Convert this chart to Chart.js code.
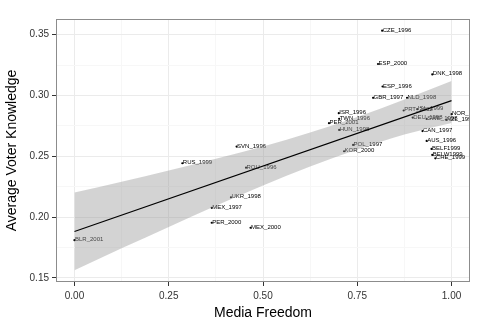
<!DOCTYPE html>
<html>
<head>
<meta charset="utf-8">
<script src="https://cdn.jsdelivr.net/npm/chart.js@4.4.0/dist/chart.umd.min.js"></script>
<style>
  html, body { margin: 0; padding: 0; background: #fff; }
</style>
</head>
<body>
<canvas id="knowledge" width="490" height="327"></canvas>
<script>
// country/election cases
const countries = [
    'CZE_1996', 'ESP_2000', 'DNK_1998', 'ESP_1996', 'GBR_1997', 'NLD_1998',
    'PRT_2002', 'ISL_1999', 'DEU_1998', 'SWE_1998', 'NOR_1997', 'NZL_1996',
    'ISR_1996', 'TWN_1996', 'PER_2001', 'HUN_1998', 'CAN_1997', 'POL_1997',
    'KOR_2000', 'AUS_1996', 'BELF1999', 'BELW1999', 'CHE_1999', 'SVN_1996',
    'RUS_1999', 'ROU_1996', 'UKR_1998', 'MEX_1997', 'PER_2000', 'MEX_2000',
    'BLR_2001'
];
const mediaFreedom = [
    0.816, 0.805, 0.949, 0.817, 0.792, 0.882,
    0.873, 0.909, 0.897, 0.934, 1.000, 0.986,
    0.701, 0.702, 0.675, 0.702, 0.923, 0.739,
    0.715, 0.934, 0.947, 0.949, 0.957, 0.430,
    0.286, 0.455, 0.415, 0.364, 0.364, 0.467,
    0.000
];
const voterKnowledge = [
    0.3533, 0.3259, 0.3173, 0.3074, 0.2981, 0.2981,
    0.2877, 0.2888, 0.2819, 0.2808, 0.2847, 0.2799,
    0.2855, 0.2808, 0.2773, 0.2717, 0.2708, 0.2594,
    0.2542, 0.2627, 0.2561, 0.2512, 0.2484, 0.2580,
    0.2443, 0.2407, 0.2163, 0.2077, 0.1954, 0.1913,
    0.1811
];

// linear fit and its 95% band
const fitX = [0, 1];
const fitY = [0.1883, 0.2958];
const bandX = [0, 0.125, 0.25, 0.375, 0.5, 0.625, 0.75, 0.875, 1];
const bandUpper = [0.2202, 0.2292, 0.2384, 0.2480, 0.2581, 0.2695, 0.2824, 0.2968, 0.3120];
const bandLower = [0.1564, 0.1744, 0.1920, 0.2094, 0.2261, 0.2417, 0.2556, 0.2680, 0.2775];

// axis ticks (major labelled, minor only as grid)
const xMajor = [0, 0.25, 0.5, 0.75, 1];
const xMinor = [0.125, 0.375, 0.625, 0.875];
const yMajor = [0.15, 0.2, 0.25, 0.3, 0.35];
const yMinor = [0.175, 0.225, 0.275, 0.325];

const FONT = '"Liberation Sans", Arial, Helvetica, sans-serif';

const toXY = (xs, ys) => xs.map((v, i) => ({x: v, y: ys[i]}));

function gridFor(major) {
    return {
        color: ctx => major.includes(ctx.tick.value) ? '#ebebeb' : '#f7f7f7',
        lineWidth: 1,
        tickColor: ctx => major.includes(ctx.tick.value) ? '#333333' : 'rgba(0,0,0,0)',
        tickLength: 4,
        drawTicks: true
    };
}

function setTicks(major, minor) {
    return scale => {
        scale.ticks = major.concat(minor).sort((a, b) => a - b).map(v => ({value: v}));
    };
}

// text labels next to each point, clipped to the panel
const pointLabels = {
    id: 'pointLabels',
    beforeDatasetsDraw(chart) {
        const {ctx, chartArea, scales: {x, y}} = chart;
        ctx.save();
        ctx.beginPath();
        ctx.rect(chartArea.left, chartArea.top, chartArea.right - chartArea.left, chartArea.bottom - chartArea.top);
        ctx.clip();
        ctx.font = '6px ' + FONT;
        ctx.fillStyle = '#000';
        ctx.textAlign = 'left';
        ctx.textBaseline = 'alphabetic';
        countries.forEach((name, i) => {
            ctx.fillText(name, x.getPixelForValue(mediaFreedom[i]) + 0.5, y.getPixelForValue(voterKnowledge[i]) + 1);
        });
        ctx.restore();
    }
};

// grey frame round the panel
const panelBorder = {
    id: 'panelBorder',
    afterDraw(chart) {
        const {ctx, chartArea} = chart;
        ctx.save();
        ctx.strokeStyle = '#8c8c8c';
        ctx.lineWidth = 1;
        ctx.strokeRect(chartArea.left + 0.5, chartArea.top + 0.5,
            chartArea.right - chartArea.left - 1, chartArea.bottom - chartArea.top - 1);
        ctx.restore();
    }
};

const dataKnowledge = {
    datasets: [
        {
            label: 'fit',
            data: toXY(fitX, fitY),
            showLine: true,
            borderColor: '#000',
            borderWidth: 1.1,
            pointRadius: 0
        },
        {
            label: 'upper',
            data: toXY(bandX, bandUpper),
            showLine: true,
            borderWidth: 0,
            borderColor: 'rgba(0,0,0,0)',
            pointRadius: 0,
            cubicInterpolationMode: 'monotone',
            fill: false
        },
        {
            label: 'lower',
            data: toXY(bandX, bandLower),
            showLine: true,
            borderWidth: 0,
            borderColor: 'rgba(0,0,0,0)',
            backgroundColor: 'rgba(150,150,150,0.42)',
            pointRadius: 0,
            cubicInterpolationMode: 'monotone',
            fill: '-1'
        },
        {
            label: 'cases',
            data: toXY(mediaFreedom, voterKnowledge),
            backgroundColor: '#000',
            borderWidth: 0,
            pointRadius: 1.1
        }
    ]
};

const configKnowledge = {
    type: 'scatter',
    data: dataKnowledge,
    plugins: [pointLabels, panelBorder],
    options: {
        responsive: false,
        animation: false,
        devicePixelRatio: 1,
        layout: {
            padding: {top: 19, right: 20, bottom: 0, left: 0}
        },
        plugins: {
            legend: {display: false},
            tooltip: {enabled: false}
        },
        scales: {
            x: {
                type: 'linear',
                min: -0.049,
                max: 1.049,
                afterBuildTicks: setTicks(xMajor, xMinor),
                afterFit: scale => { scale.height = 45; },
                grid: gridFor(xMajor),
                border: {display: false},
                ticks: {
                    padding: 4,
                    color: '#333',
                    font: {family: FONT, size: 10},
                    callback: v => xMajor.includes(v) ? v.toFixed(2) : ''
                },
                title: {
                    display: true,
                    text: 'Media Freedom',
                    color: '#000',
                    font: {family: FONT, size: 14},
                    padding: {top: 5, bottom: 5}
                }
            },
            y: {
                type: 'linear',
                min: 0.1467,
                max: 0.3629,
                afterBuildTicks: setTicks(yMajor, yMinor),
                afterFit: scale => { scale.width = 56; },
                grid: gridFor(yMajor),
                border: {display: false},
                ticks: {
                    padding: 3,
                    color: '#333',
                    font: {family: FONT, size: 10},
                    callback: v => yMajor.includes(v) ? v.toFixed(2) : ''
                },
                title: {
                    display: true,
                    text: 'Average Voter Knowledge',
                    color: '#000',
                    font: {family: FONT, size: 14},
                    padding: {top: 4, bottom: 4}
                }
            }
        }
    }
};

const ChartKnowledge = new Chart(
    document.getElementById('knowledge'),
    configKnowledge
);
</script>
</body>
</html>
